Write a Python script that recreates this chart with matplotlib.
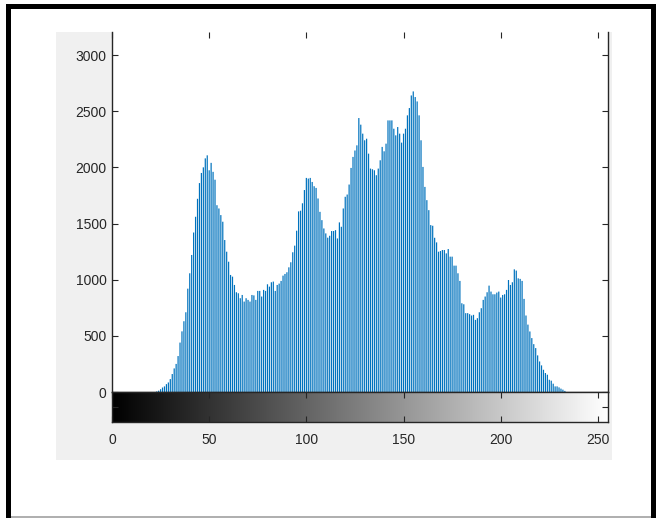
import numpy as np
import matplotlib.pyplot as plt
from matplotlib.patches import Rectangle

# grey-level histogram of an 8-bit image (levels 23..233 are non-zero)
first_level = 23
pixel_counts = [
    5, 12, 25, 40, 50, 70, 85, 115, 160, 210,
    250, 320, 440, 540, 630, 710, 920, 1057, 1220, 1420,
    1560, 1720, 1860, 1950, 2000, 2080, 2107, 1974, 2040, 1960,
    1890, 1663, 1634, 1575, 1516, 1353, 1249, 1160, 1042, 1027,
    953, 888, 879, 835, 864, 805, 835, 820, 805, 864,
    860, 820, 900, 900, 850, 909, 900, 959, 938, 977,
    983, 900, 953, 965, 989, 1036, 1051, 1066, 1110, 1155,
    1244, 1303, 1436, 1608, 1614, 1680, 1798, 1906, 1900, 1906,
    1870, 1832, 1817, 1723, 1604, 1530, 1456, 1412, 1374, 1391,
    1433, 1433, 1441, 1367, 1510, 1471, 1634, 1738, 1758, 1847,
    1995, 2093, 2150, 2196, 2439, 2380, 2300, 2241, 2255, 2122,
    1989, 1983, 1974, 1930, 1989, 2063, 2182, 2143, 2211, 2418,
    2418, 2418, 2344, 2285, 2359, 2300, 2220, 2300, 2344, 2463,
    2528, 2640, 2676, 2626, 2587, 2463, 2241, 2004, 1826, 1708,
    1619, 1486, 1480, 1373, 1332, 1249, 1255, 1264, 1264, 1234,
    1273, 1205, 1205, 1125, 1125, 1057, 989, 790, 781, 702,
    702, 693, 681, 687, 642, 657, 710, 746, 820, 850,
    888, 947, 894, 870, 870, 885, 894, 841, 864, 870,
    909, 997, 953, 977, 1092, 1081, 1012, 1007, 989, 829,
    681, 600, 539, 480, 426, 391, 326, 272, 237, 198,
    169, 154, 109, 101, 74, 50, 50, 41, 30, 21,
    10,
]
levels = np.arange(first_level, first_level + len(pixel_counts))

y_ticks = [0, 500, 1000, 1500, 2000, 2500, 3000]
x_ticks = [0, 50, 100, 150, 200, 250]

plt.rcParams['font.family'] = ['Liberation Sans', 'DejaVu Sans']
axis_color = '#262626'

fig = plt.figure(figsize=(6.6, 5.18), dpi=100)
fig.patch.set_facecolor('white')

W, H = 660.0, 518.0

def px_rect(x0, y0, x1, y1):
    # pixel box (top-left origin) -> figure fraction [left, bottom, width, height]
    return [x0 / W, 1 - y1 / H, (x1 - x0) / W, (y1 - y0) / H]

# frame around the figure
for x0, y0, x1, y1, c in [(6, 4, 656, 9, 'black'), (6, 4, 11, 518, 'black'),
                          (651, 4, 656, 518, 'black'), (11, 516, 651, 518, '#b0b0b0')]:
    l, b, w, h = px_rect(x0, y0, x1, y1)
    fig.add_artist(Rectangle((l, b), w, h, transform=fig.transFigure,
                             facecolor=c, edgecolor='none', zorder=0))

# grey window background
l, b, w, h = px_rect(56, 32, 612, 460)
fig.add_artist(Rectangle((l, b), w, h, transform=fig.transFigure,
                         facecolor='#f0f0f0', edgecolor='none', zorder=0))

# histogram axes
ax = fig.add_axes(px_rect(112, 32, 608, 392))
bars = ax.bar(levels, pixel_counts, width=0.62, color='#0072BD', linewidth=0)
for b in bars:
    b.set_snap(False)
ax.set_xlim(0, 255.2)
ax.set_ylim(0, 3205)
ax.set_yticks(y_ticks)
ax.set_xticks(x_ticks)
ax.tick_params(axis='x', bottom=False, top=True, labelbottom=False,
               direction='in', length=4, color=axis_color, width=0.8)
ax.tick_params(axis='y', left=True, right=True, direction='in', length=4,
               color=axis_color, width=0.8, labelsize=10, labelcolor=axis_color, pad=4)
ax.spines['top'].set_visible(False)
for s in ['left', 'right', 'bottom']:
    ax.spines[s].set_color(axis_color)
    ax.spines[s].set_linewidth(1.0)

# grey-level colour bar under the histogram
cax = fig.add_axes(px_rect(112, 392, 608, 422))
gradient = np.arange(256).reshape(1, -1)
cax.imshow(gradient, cmap='gray', aspect='auto', extent=(-0.5, 255.5, 0, 1),
           vmin=0, vmax=255)
cax.set_xlim(0, 255.2)
cax.set_ylim(0, 1)
cax.set_xticks(x_ticks)
cax.set_yticks([0.5])
cax.set_yticklabels([])
cax.tick_params(axis='x', bottom=True, top=True, direction='in', length=4,
                color=axis_color, width=0.8, labelsize=10, labelcolor=axis_color, pad=8)
cax.tick_params(axis='y', left=True, right=True, direction='in', length=4,
                color=axis_color, width=0.8)
for s in cax.spines.values():
    s.set_color(axis_color)
    s.set_linewidth(1.0)

fig.savefig('out.png', dpi=100)
